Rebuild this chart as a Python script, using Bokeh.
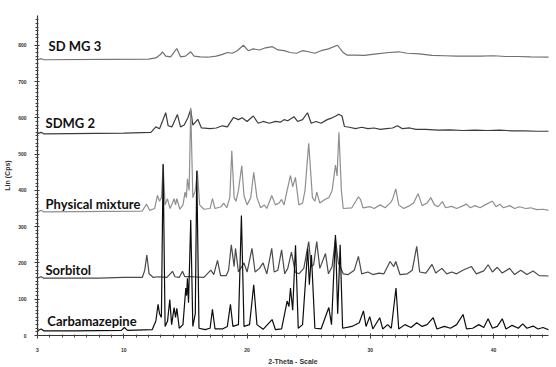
from bokeh.plotting import figure
from bokeh.models import FixedTicker, Range1d, ColumnDataSource
from bokeh.core.properties import value
from bokeh.embed import file_html
from bokeh.resources import INLINE

# ---------------- data (2-Theta, Lin counts) ----------------
sample_names = ["SD MG 3", "SDMG 2", "Physical mixture", "Sorbitol", "Carbamazepine"]

sdmg3 = [(3.0, 760), (3.3, 763), (3.5, 760), (12.0, 762), (12.6, 765), (13.0, 775), (13.13, 782),
         (13.4, 770), (13.8, 768), (14.3, 791), (14.6, 768), (15.0, 770), (15.43, 782), (15.7, 770),
         (16.2, 768), (16.8, 767), (17.5, 770), (18.0, 775), (18.4, 780), (18.8, 778), (19.2, 785),
         (19.7, 800), (20.1, 785), (20.5, 790), (21.0, 787), (21.5, 793), (22.06, 796), (22.5, 787),
         (23.0, 785), (23.5, 780), (24.0, 778), (24.5, 785), (25.0, 782), (25.5, 778), (26.0, 785),
         (26.6, 790), (27.33, 800), (27.8, 780), (28.1, 773), (28.8, 773), (29.5, 772), (30.5, 776),
         (31.5, 780), (32.3, 782), (33.0, 778), (34.0, 776), (35.0, 772), (36.0, 771), (37.0, 770),
         (38.0, 770), (39.0, 770), (40.0, 771), (41.0, 769), (42.0, 769), (43.0, 768), (44.5, 767)]

sdmg2 = [(3.0, 556), (3.3, 560), (3.5, 556), (10.0, 558), (12.2, 560), (12.6, 575), (12.9, 570),
         (13.4, 614), (13.6, 578), (13.9, 575), (14.35, 609), (14.6, 575), (14.9, 580), (15.2, 600),
         (15.43, 623), (15.6, 580), (16.0, 596), (16.3, 572), (17.0, 570), (17.5, 572), (18.0, 578),
         (18.4, 575), (18.9, 601), (19.3, 595), (19.6, 600), (20.0, 590), (20.5, 605), (20.9, 585),
         (21.3, 590), (21.8, 585), (22.3, 590), (22.7, 588), (23.0, 595), (23.3, 592), (23.8, 603),
         (24.1, 590), (24.5, 595), (24.9, 614), (25.2, 585), (25.6, 590), (26.0, 585), (26.5, 595),
         (26.9, 600), (27.2, 605), (27.43, 610), (27.7, 605), (27.9, 576), (28.3, 574), (28.8, 570),
         (29.3, 574), (29.8, 570), (30.3, 572), (30.8, 568), (31.3, 570), (31.8, 572), (32.2, 578),
         (32.6, 570), (33.2, 572), (33.7, 568), (34.5, 568), (35.5, 566), (36.5, 567), (37.5, 565),
         (38.5, 566), (39.5, 565), (40.5, 566), (41.5, 564), (42.5, 564), (43.5, 563), (44.5, 563)]

physical_mixture = [(3.0, 341), (3.3, 345), (3.5, 341), (11.5, 343), (11.85, 362), (12.1, 345),
         (12.5, 350), (12.73, 386), (12.9, 370), (13.05, 380), (13.19, 470), (13.35, 360), (13.54, 377),
         (13.75, 350), (13.95, 365), (14.08, 377), (14.2, 360), (14.3, 377), (14.55, 348), (14.8, 360),
         (14.97, 395), (15.08, 380), (15.16, 432), (15.3, 400), (15.43, 628), (15.6, 380), (15.8, 400),
         (15.97, 454), (16.15, 360), (16.5, 348), (17.0, 350), (17.19, 377), (17.4, 350), (17.9, 355),
         (18.1, 365), (18.35, 352), (18.6, 380), (18.76, 509), (18.95, 380), (19.1, 370), (19.3, 400),
         (19.57, 468), (19.75, 385), (20.0, 360), (20.3, 380), (20.54, 450), (20.8, 380), (21.1, 352),
         (21.4, 360), (21.6, 350), (22.0, 386), (22.3, 360), (22.6, 365), (22.8, 375), (23.0, 360),
         (23.25, 400), (23.52, 441), (23.7, 410), (23.92, 436), (24.2, 360), (24.5, 365), (24.7, 400),
         (25.0, 530), (25.3, 380), (25.5, 370), (25.65, 395), (25.9, 365), (26.3, 375), (26.63, 380),
         (26.9, 400), (27.17, 470), (27.3, 440), (27.45, 560), (27.65, 400), (27.8, 350), (28.5, 352),
         (28.9, 375), (29.03, 382), (29.2, 375), (29.4, 352), (30.0, 355), (30.3, 350), (30.8, 360),
         (31.2, 352), (31.6, 365), (31.8, 375), (32.06, 404), (32.3, 360), (32.7, 350), (33.2, 358),
         (33.5, 365), (33.87, 391), (34.2, 358), (34.6, 365), (34.9, 380), (35.2, 360), (35.5, 355),
         (35.85, 369), (36.1, 352), (36.6, 356), (37.0, 350), (37.4, 356), (37.8, 362), (38.1, 352),
         (38.5, 358), (38.9, 352), (39.3, 360), (39.9, 370), (40.2, 355), (40.5, 362), (40.8, 352),
         (41.3, 358), (41.7, 350), (42.1, 355), (42.6, 350), (43.0, 352), (43.5, 347), (44.0, 348),
         (44.5, 345)]

sorbitol = [(3.0, 158), (3.3, 162), (3.5, 158), (8.0, 158), (10.0, 160), (11.5, 160), (11.7, 180),
         (11.87, 222), (12.05, 170), (12.4, 160), (12.8, 162), (13.5, 160), (13.95, 177), (14.15, 162),
         (14.5, 160), (14.76, 177), (14.95, 162), (15.5, 162), (16.5, 160), (17.06, 180), (17.3, 168),
         (17.6, 207), (17.85, 165), (18.3, 165), (18.5, 180), (18.72, 250), (18.95, 190), (19.06, 240),
         (19.3, 175), (19.75, 200), (20.0, 175), (20.4, 240), (20.65, 175), (21.0, 185), (21.3, 200),
         (21.6, 170), (22.0, 240), (22.2, 175), (22.5, 180), (22.8, 236), (23.05, 170), (23.3, 185),
         (23.6, 230), (23.9, 175), (24.2, 170), (24.6, 185), (25.0, 259), (25.2, 190), (25.4, 195),
         (25.65, 259), (25.9, 185), (26.36, 226), (26.6, 170), (26.9, 190), (27.17, 268), (27.4, 200),
         (27.55, 190), (27.8, 170), (28.2, 168), (28.7, 180), (29.03, 218), (29.3, 170), (29.8, 175),
         (30.2, 168), (30.7, 172), (31.1, 170), (31.6, 204), (31.9, 190), (32.06, 204), (32.4, 168),
         (33.0, 170), (33.4, 180), (33.76, 246), (34.0, 175), (34.5, 172), (35.0, 196), (35.3, 172),
         (35.8, 185), (36.2, 170), (36.6, 175), (37.0, 170), (37.5, 180), (38.2, 190), (38.6, 170),
         (39.2, 178), (39.55, 195), (39.9, 175), (40.3, 188), (40.7, 172), (41.3, 185), (41.7, 168),
         (42.2, 180), (42.7, 168), (43.2, 178), (43.7, 165), (44.5, 164)]

carbamazepine = [(3.0, 13), (3.3, 18), (3.5, 13), (6.0, 13), (9.8, 14), (10.05, 22), (10.3, 14),
         (12.3, 16), (12.6, 40), (12.78, 86), (12.9, 60), (13.05, 50), (13.19, 473), (13.35, 25),
         (13.55, 40), (13.73, 99), (13.88, 30), (14.08, 77), (14.2, 50), (14.3, 75), (14.5, 20),
         (14.8, 30), (15.03, 131), (15.1, 110), (15.16, 158), (15.25, 90), (15.43, 318), (15.6, 25),
         (15.8, 60), (15.92, 454), (16.1, 20), (16.6, 16), (17.0, 20), (17.19, 72), (17.4, 18),
         (18.0, 18), (18.4, 25), (18.65, 86), (18.85, 25), (19.3, 30), (19.54, 331), (19.75, 25),
         (20.2, 30), (20.54, 140), (20.8, 30), (21.3, 17), (22.03, 44), (22.3, 16), (22.8, 18),
         (23.25, 95), (23.4, 80), (23.52, 131), (23.7, 70), (23.93, 249), (24.15, 20), (24.5, 30),
         (24.92, 240), (25.05, 140), (25.22, 222), (25.5, 20), (26.0, 18), (26.63, 77), (26.85, 30),
         (27.17, 277), (27.35, 60), (27.55, 250), (27.75, 20), (28.5, 25), (29.1, 35), (29.44, 68),
         (29.65, 25), (29.95, 52), (30.2, 18), (30.76, 49), (31.0, 18), (31.4, 30), (31.7, 20),
         (32.08, 131), (32.3, 18), (32.8, 30), (33.3, 22), (33.76, 35), (34.2, 25), (34.6, 30),
         (35.1, 49), (35.4, 18), (36.0, 25), (36.5, 20), (37.0, 30), (37.52, 58), (37.8, 18),
         (38.3, 20), (38.8, 30), (39.2, 22), (39.55, 46), (39.9, 20), (40.3, 25), (40.7, 46),
         (41.0, 18), (41.5, 28), (42.0, 20), (42.36, 32), (42.7, 20), (43.2, 26), (43.6, 18),
         (44.0, 22), (44.5, 15)]

x_ticks = [3, 10, 20, 30, 40]
x_tick_labels = ["3", "10", "20", "30", "40"]
y_ticks = [0, 100, 200, 300, 400, 500, 600, 700, 800]

# ---------------- styling / layout ----------------
series = [sdmg3, sdmg2, physical_mixture, sorbitol, carbamazepine]
colors = ["#707070", "#3c3c3c", "#8f8f8f", "#4a4a4a", "#0d0d0d"]
label_x = [3.9, 3.65, 3.65, 3.65, 3.8]
label_y = [797, 587, 363, 181, 41]

X0, X1 = 3.0, 44.45
Y0, Y1 = 0, 882

p = figure(width=552, height=367, output_backend="svg", toolbar_location=None,
           x_range=Range1d(X0, X1), y_range=Range1d(Y0, Y1),
           min_border_left=37, min_border_right=4, min_border_top=15, min_border_bottom=29)
p.outline_line_color = None
p.grid.visible = False
p.background_fill_color = "white"

for data, col in zip(series, colors):
    xs, ys = zip(*data)
    p.line(list(xs), list(ys), line_color=col, line_width=1.2)

src = ColumnDataSource(dict(x=label_x, y=label_y, t=sample_names))
p.text(x="x", y="y", text="t", source=src, text_font=value("Lato"), text_font_style="bold",
       text_font_size="13px", text_baseline="middle", text_align="left", text_color="#111111")

# axes
p.xaxis.ticker = FixedTicker(ticks=x_ticks, minor_ticks=list(range(3, 45)))
p.xaxis.major_label_overrides = {t: s for t, s in zip(x_ticks, x_tick_labels)}
p.yaxis.ticker = FixedTicker(ticks=y_ticks, minor_ticks=list(range(0, 880, 10)))
p.xaxis.axis_label = "2-Theta - Scale"
p.yaxis.axis_label = "Lin (Cps)"
for ax in (p.xaxis, p.yaxis):
    ax.axis_line_color = "#333333"
    ax.axis_line_width = 1.2
    ax.major_tick_line_color = "#333333"
    ax.minor_tick_line_color = "#444444"
    ax.major_tick_in = 2
    ax.major_tick_out = 3
    ax.minor_tick_in = 1
    ax.minor_tick_out = 2
    ax.major_label_text_font = "Liberation Sans"
    ax.major_label_text_font_size = "5px"
    ax.major_label_text_font_style = "bold"
    ax.major_label_text_color = "#333333"
    ax.axis_label_text_font = "Liberation Sans"
    ax.axis_label_text_font_size = "7px"
    ax.axis_label_text_font_style = "bold"
    ax.axis_label_text_color = "#333333"
p.xaxis.major_label_standoff = 9
p.xaxis.axis_label_standoff = 3
p.yaxis.major_label_standoff = 8
p.yaxis.axis_label_standoff = 4

open("out.html", "w").write(file_html(p, INLINE))
